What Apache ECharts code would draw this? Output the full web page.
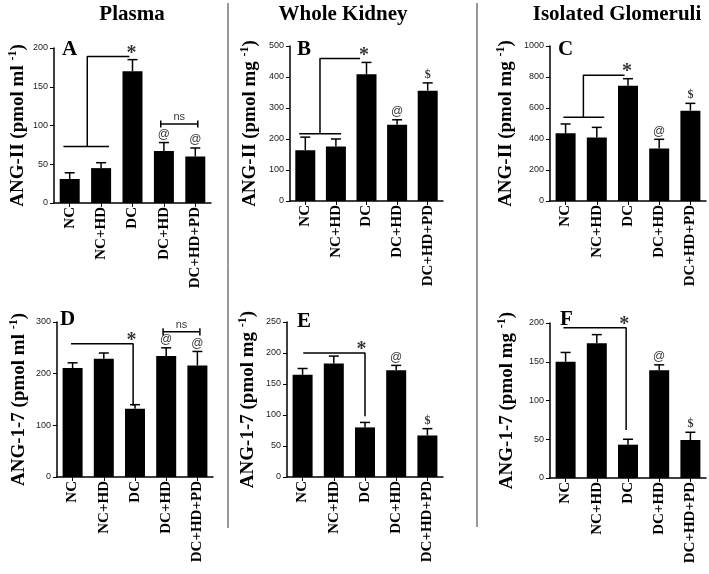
<!DOCTYPE html>
<html><head><meta charset="utf-8">
<script src="https://cdn.jsdelivr.net/npm/echarts@6/dist/echarts.min.js"></script>
<style>html,body{margin:0;padding:0;background:#fff}#c{width:709px;height:574px}</style>
</head><body><div id="c"></div>
<script>
// ---- data ----
const categories = ['NC', 'NC+HD', 'DC', 'DC+HD', 'DC+HD+PD'];

const angIIPlasma = [31, 45, 170, 67, 60];
const angIIPlasmaSem = [8, 7, 15, 11, 11];
const angIIKidney = [164, 176, 409, 246, 356];
const angIIKidneySem = [42, 24, 38, 16, 25];
const angIIGlom = [437, 409, 744, 338, 583];
const angIIGlomSem = [60, 66, 45, 60, 47];
const ang17Plasma = [211, 229, 132, 234, 216];
const ang17PlasmaSem = [10, 11, 8, 16, 27];
const ang17Kidney = [165, 183, 80, 172, 67];
const ang17KidneySem = [10, 12, 8, 8, 11];
const ang17Glom = [150, 174, 43, 139, 49];
const ang17GlomSem = [12, 11, 7, 7, 10];

const marksA = ['', '', '', '@', '@'];
const marksB = ['', '', '', '@', '$'];
const marksC = ['', '', '', '@', '$'];
const marksD = ['', '', '', '@', '@'];
const marksE = ['', '', '', '@', '$'];
const marksF = ['', '', '', '@', '$'];

const yMax = [200, 500, 1000, 300, 250, 200];
const yStep = [50, 100, 200, 100, 50, 50];

// significance brackets, in [category position, value]
const starLinesA = [[[-0.2, 73], [1.25, 73]], [[0.56, 73], [0.56, 189], [1.9, 189]]];
const starLinesB = [[[-0.2, 217], [1.17, 217]], [[0.48, 217], [0.48, 460], [1.79, 460]]];
const starLinesC = [[[-0.07, 540], [1.24, 540]], [[0.57, 540], [0.57, 811], [1.89, 811]]];
const starLinesD = [[[-0.05, 258], [1.94, 258], [1.94, 138]]];
const starLinesE = [[[0.02, 200], [2.0, 200], [2.0, 98]]];
const starLinesF = [[[-0.07, 194], [1.94, 194], [1.94, 62]]];
const starPosA = [1.97, 189], starPosB = [1.92, 460], starPosC = [1.97, 811];
const starPosD = [1.89, 258], starPosE = [1.89, 200], starPosF = [1.88, 194];
const nsA = { from: 2.9, to: 4.08, at: 102, cap: 4.5 };
const nsD = { from: 2.9, to: 4.08, at: 281, cap: 7 };

const yTitles = ['ANG-II (pmol ml {sup|-1})', 'ANG-II (pmol mg {sup|-1})', 'ANG-II (pmol mg {sup|-1})',
                 'ANG-1-7 (pmol ml {sup|-1})', 'ANG-1-7 (pmol mg {sup|-1})', 'ANG-1-7 (pmol mg {sup|-1})'];
const panelLetters = ['A', 'B', 'C', 'D', 'E', 'F'];
const columnTitles = ['Plasma', 'Whole Kidney', 'Isolated Glomeruli'];

// ---- layout ----
const grids = [
  { left: 54, top: 48, width: 157, height: 155 },
  { left: 290, top: 46, width: 153, height: 155 },
  { left: 550, top: 46, width: 156, height: 155 },
  { left: 57, top: 322, width: 156, height: 155 },
  { left: 287, top: 322, width: 156, height: 155 },
  { left: 550, top: 323, width: 156, height: 155 }
];
const nameGaps = [23, 29, 33, 27, 28, 32];
const letterPos = [[62, 39], [297, 39], [558, 39], [60, 309], [297, 311], [560, 309]];
const titlePos = [132, 343, 617];

const values = [angIIPlasma, angIIKidney, angIIGlom, ang17Plasma, ang17Kidney, ang17Glom];
const sems = [angIIPlasmaSem, angIIKidneySem, angIIGlomSem, ang17PlasmaSem, ang17KidneySem, ang17GlomSem];
const marks = [marksA, marksB, marksC, marksD, marksE, marksF];
const starLines = [starLinesA, starLinesB, starLinesC, starLinesD, starLinesE, starLinesF];
const starPos = [starPosA, starPosB, starPosC, starPosD, starPosE, starPosF];
const nsBr = [nsA, null, null, nsD, null, null];

const SERIF = '"Liberation Serif", "Times New Roman", serif';
const SANS = '"Liberation Sans", Arial, sans-serif';

const option = { animation: false, grid: [], xAxis: [], yAxis: [], series: [], graphic: [] };

for (let g = 0; g < 6; g++) {
  const L = grids[g];
  option.grid.push({ left: L.left, top: L.top, width: L.width, height: L.height, containLabel: false });
  option.xAxis.push({
    type: 'category', gridIndex: g, data: categories,
    axisLine: { onZero: false, lineStyle: { color: '#000', width: 1.5 } },
    axisTick: { show: true, alignWithLabel: true, length: 4, lineStyle: { color: '#000', width: 1 } },
    axisLabel: { rotate: 90, interval: 0, margin: 4, color: '#000', fontFamily: SERIF, fontWeight: 'bold', fontSize: 15 }
  });
  option.xAxis.push({ type: 'value', gridIndex: g, min: -0.5, max: 4.5, show: false });
  option.yAxis.push({
    type: 'value', gridIndex: g, min: 0, max: yMax[g], interval: yStep[g],
    splitLine: { show: false },
    axisLine: { show: true, onZero: false, lineStyle: { color: '#000', width: 1.5 } },
    axisTick: { show: true, length: 4, lineStyle: { color: '#000', width: 1 } },
    axisLabel: { color: '#222', fontFamily: SANS, fontSize: 9, margin: 6, formatter: v => String(v) },
    name: yTitles[g], nameLocation: 'middle', nameRotate: 90, nameGap: nameGaps[g],
    nameTextStyle: {
      fontFamily: SERIF, fontWeight: 'bold', fontSize: 19, color: '#000', lineHeight: 22,
      rich: { sup: { fontFamily: SERIF, fontWeight: 'bold', fontSize: 12, color: '#000', verticalAlign: 'top', lineHeight: 12 } }
    }
  });
  const cx = 2 * g, vx = 2 * g + 1;
  option.series.push({
    type: 'bar', xAxisIndex: cx, yAxisIndex: g, data: values[g], barWidth: 20,
    itemStyle: { color: '#000' }
  });
  option.series.push({
    type: 'custom', xAxisIndex: cx, yAxisIndex: g,
    data: values[g].map((v, i) => [i, v, sems[g][i]]),
    encode: { x: 0, y: 1 }, z: 5,
    renderItem: function (params, api) {
      const i = api.value(0), v = api.value(1), s = api.value(2);
      const p0 = api.coord([i, v]), p1 = api.coord([i, v + s]);
      const w = 5;
      return { type: 'group', children: [
        { type: 'line', shape: { x1: p0[0], y1: p0[1], x2: p1[0], y2: p1[1] }, style: { stroke: '#000', lineWidth: 1.5 } },
        { type: 'line', shape: { x1: p1[0] - w, y1: p1[1], x2: p1[0] + w, y2: p1[1] }, style: { stroke: '#000', lineWidth: 1.5 } }
      ] };
    }
  });
  option.series.push({
    type: 'scatter', xAxisIndex: cx, yAxisIndex: g, symbolSize: 0, z: 6,
    data: values[g].map((v, i) => ({
      value: [i, v + sems[g][i]],
      label: {
        show: marks[g][i] !== '', formatter: marks[g][i], position: 'inside', offset: [0, -8],
        color: '#000',
        fontFamily: marks[g][i] === '$' ? SERIF : SANS,
        fontWeight: marks[g][i] === '$' ? 'bold' : 'normal',
        fontSize: 12
      }
    }))
  });
  starLines[g].forEach(pl => {
    option.series.push({
      type: 'line', xAxisIndex: vx, yAxisIndex: g, data: pl, symbol: 'none', z: 6,
      lineStyle: { color: '#000', width: 1.5 }
    });
  });
  option.series.push({
    type: 'scatter', xAxisIndex: vx, yAxisIndex: g, symbolSize: 0, z: 6,
    data: [{ value: starPos[g], label: { show: true, formatter: '*', position: 'inside', offset: [0, -3],
      color: '#000', fontFamily: SERIF, fontWeight: 'bold', fontSize: 20 } }]
  });
  const ns = nsBr[g];
  if (ns) {
    option.series.push({ type: 'line', xAxisIndex: vx, yAxisIndex: g, symbol: 'none', z: 6,
      data: [[ns.from, ns.at], [ns.to, ns.at]], lineStyle: { color: '#000', width: 1.5 } });
    option.series.push({ type: 'line', xAxisIndex: vx, yAxisIndex: g, symbol: 'none', z: 6,
      data: [[ns.from, ns.at - ns.cap], [ns.from, ns.at + ns.cap]], lineStyle: { color: '#000', width: 1.5 } });
    option.series.push({ type: 'line', xAxisIndex: vx, yAxisIndex: g, symbol: 'none', z: 6,
      data: [[ns.to, ns.at - ns.cap], [ns.to, ns.at + ns.cap]], lineStyle: { color: '#000', width: 1.5 } });
    option.series.push({
      type: 'scatter', xAxisIndex: vx, yAxisIndex: g, symbolSize: 0, z: 6,
      data: [{ value: [(ns.from + ns.to) / 2, ns.at], label: { show: true, formatter: 'ns', position: 'inside', offset: [0, -7],
        color: '#000', fontFamily: SANS, fontSize: 11 } }]
    });
  }
  option.graphic.push({ type: 'text', left: letterPos[g][0], top: letterPos[g][1],
    style: { text: panelLetters[g], font: 'bold 21px ' + SERIF, fill: '#000' } });
}
columnTitles.forEach((t, k) => {
  option.graphic.push({ type: 'text', x: titlePos[k], y: 15,
    style: { text: t, font: 'bold 21px ' + SERIF, fill: '#000', textAlign: 'center', textVerticalAlign: 'middle' } });
});
option.graphic.push({ type: 'line', shape: { x1: 228, y1: 3, x2: 228, y2: 528 }, style: { stroke: '#333', lineWidth: 1 } });
option.graphic.push({ type: 'line', shape: { x1: 477, y1: 3, x2: 477, y2: 527 }, style: { stroke: '#333', lineWidth: 1 } });

const chart = echarts.init(document.getElementById('c'), null, { renderer: 'canvas' });
chart.setOption(option);
</script></body></html>
